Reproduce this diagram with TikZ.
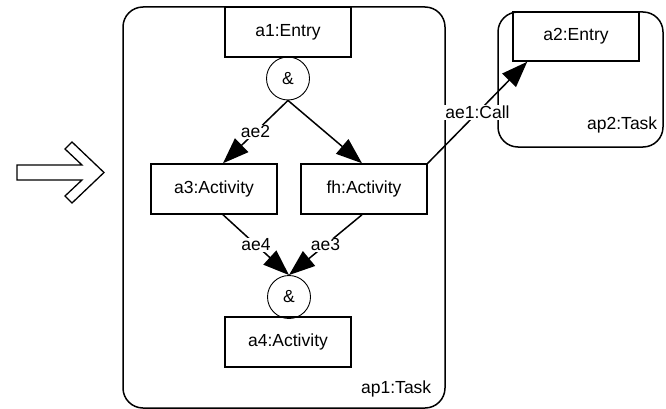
\documentclass[tikz,border=0pt]{standalone}
\usepackage{fontspec}
\setmainfont{Liberation Sans}
\usetikzlibrary{arrows.meta,calc}
\begin{document}
\begin{tikzpicture}[x=1pt,y=-1pt,
  txt/.style={font=\fontsize{17.5}{20}\selectfont},
  box/.style={txt,draw,line width=1.5pt,minimum width=126pt,minimum height=50pt,inner sep=0pt},
  task/.style={draw,line width=1.5pt,rounded corners=20pt,inner sep=0pt},
  andgate/.style={txt,draw,circle,line width=0.9pt,minimum size=43pt,inner sep=0pt},
  flow/.style={line width=1.5pt,-{Triangle[length=26pt,width=19pt]}},
  lbl/.style={txt,fill=white,inner sep=1pt}
]
\useasboundingbox (0,0) rectangle (666,409);

% task containers
\node[task,minimum width=322pt,minimum height=401pt] (ap1) at (284,207.5) {};
\node[task,minimum width=165pt,minimum height=135pt] (ap2) at (580.5,79.5) {};
\node[txt,anchor=east] (ap1lbl) at ($(ap1.south east)+(-11,-20)$) {ap1:Task};
\node[txt,anchor=east] (ap2lbl) at ($(ap2.south east)+(-3,-23)$) {ap2:Task};

% activities
\node[box] (a1) at (288,32) {a1:Entry};
\node[andgate] (c1) at (288,78.5) {\&};
\node[box] (a3) at (214,189) {a3:Activity};
\node[box] (fh) at (364,189) {fh:Activity};
\node[andgate] (c2) at (289,297) {\&};
\node[box] (a4) at (288,342) {a4:Activity};
\node[box,minimum height=49pt] (a2) at (576,36.5) {a2:Entry};

% control flow
\draw[flow] (c1.south) -- ([xshift=9pt]a3.north) node[lbl,midway] {ae2};
\draw[flow] (c1.south) -- ([xshift=-2pt]fh.north);
\draw[flow] ([xshift=9pt]a3.south) -- (c2.north) node[lbl,midway] {ae4};
\draw[flow] ([xshift=-2pt]fh.south) -- (c2.north) node[lbl,midway] {ae3};
\draw[flow] (fh.north east) -- ([xshift=15pt]a2.south west) node[lbl,midway] {ae1:Call};

% hollow arrow
\draw[line width=1.3pt,line join=miter]
  (17,165) -- (82,165) -- (65,149) -- (72,142) -- (104,172.5) -- (72,203) -- (65,196) -- (82,180) -- (17,180) -- cycle;
\end{tikzpicture}
\end{document}
